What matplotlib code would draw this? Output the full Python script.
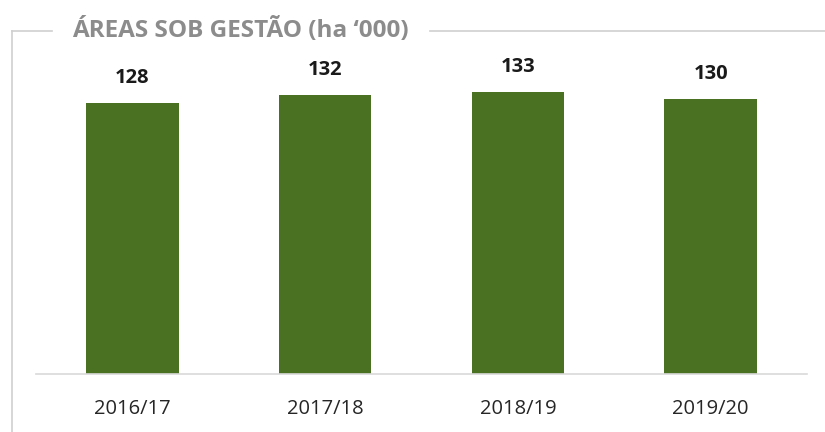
import matplotlib.pyplot as plt
from matplotlib.lines import Line2D

# data
seasons = ["2016/17", "2017/18", "2018/19", "2019/20"]
areas = [128, 132, 133, 130]

W, H = 825, 432
fig = plt.figure(figsize=(W / 100, H / 100), dpi=100)
plt.rcParams['font.family'] = ['Open Sans', 'DejaVu Sans']

# axes placed in pixel terms
ax = fig.add_axes([36 / W, 58 / H, (807 - 36) / W, (374 - 60) / H])
x = range(len(seasons))
bars = ax.bar(x, areas, width=0.48, color="#4a7021")
ax.set_xlim(-0.5, len(seasons) - 0.5)
ax.set_ylim(0, 148.3)

for b, v in zip(bars, areas):
    ax.text(b.get_x() + b.get_width() / 2, v + 9.4, str(v),
            ha="center", va="baseline", fontsize=14.5, fontweight="bold", color="#1a1a1a")

ax.set_xticks(list(x))
ax.set_xticklabels(seasons, fontsize=14.5, color="#262626")
ax.tick_params(axis="x", length=0, pad=18)
ax.set_yticks([])
for s in ["top", "left", "right"]:
    ax.spines[s].set_visible(False)
ax.spines["bottom"].set_color("#d9d9d9")
ax.spines["bottom"].set_linewidth(1.2)

# frame around the chart with the title sitting on the top line
line_col = "#cfcfcf"
ty = 1 - 31 / H
fig.add_artist(Line2D([12 / W, 12 / W], [0, ty], color=line_col, lw=1.2))
fig.add_artist(Line2D([12 / W, 52 / W], [ty, ty], color=line_col, lw=1.2))
fig.add_artist(Line2D([430 / W, 1], [ty, ty], color=line_col, lw=1.2))
fig.text(72 / W, ty, "ÁREAS SOB GESTÃO (ha ‘000)", ha="left", va="center",
         fontsize=17.5, fontweight="bold", color="#8c8c8c")

fig.savefig("out.png", dpi=100)
